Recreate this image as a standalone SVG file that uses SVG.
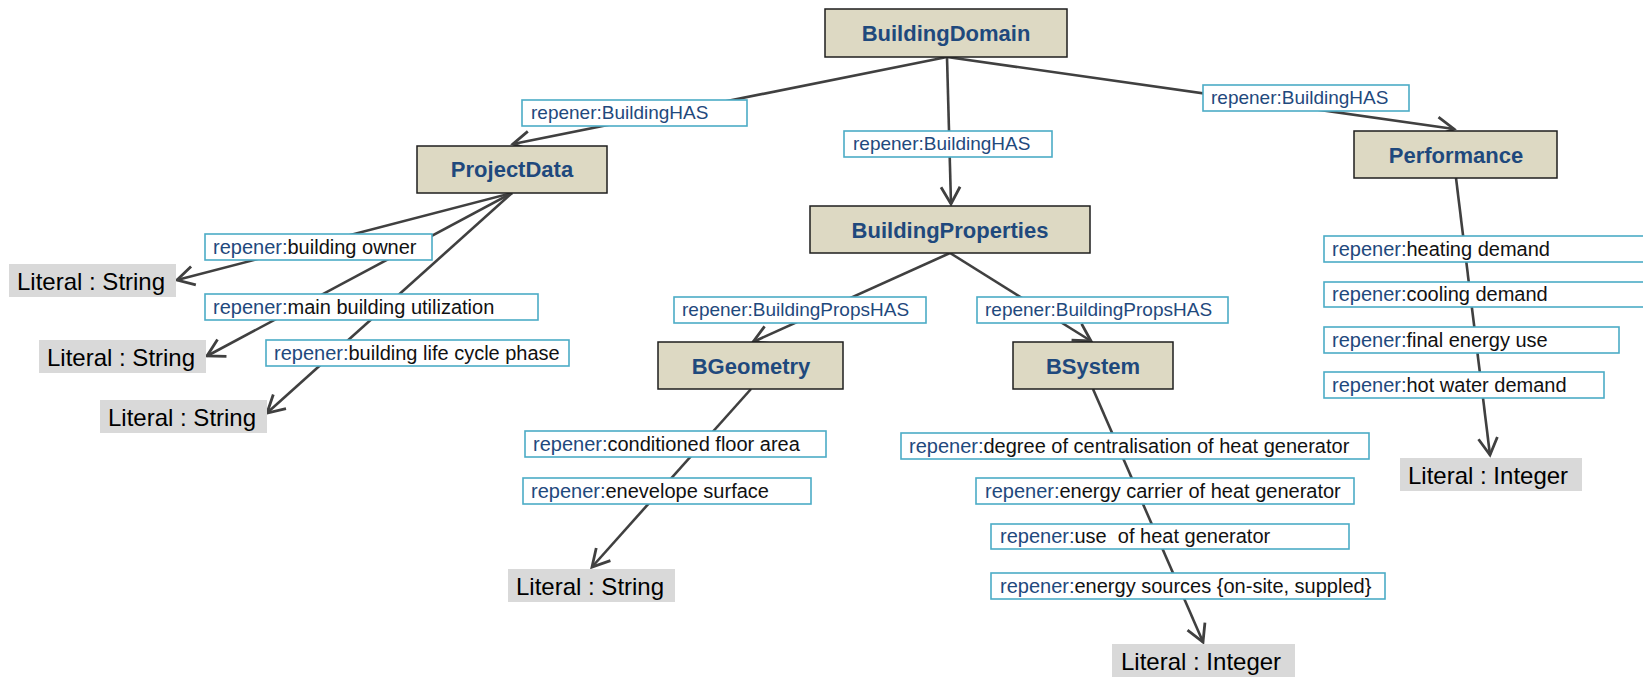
<svg xmlns="http://www.w3.org/2000/svg" width="1643" height="677" viewBox="0 0 1643 677">
  <style>
    .node rect { fill: #ddd9c3; stroke: #1e1e1e; stroke-width: 1.5; }
    .node text { font-family: "Liberation Sans", Arial, sans-serif; font-weight: bold; font-size: 22px; fill: #1f497d; text-anchor: middle; }
    .lit rect { fill: #d9d9d9; }
    .lit text { font-family: "Liberation Sans", Arial, sans-serif; font-size: 24px; fill: #000; }
    .lbl rect { fill: #fff; stroke: #4bacc6; stroke-width: 1.6; }
    .lbl text { font-family: "Liberation Sans", Arial, sans-serif; font-size: 20px; fill: #111; }
    .lbl text.has { font-size: 19px; fill: #1f497d; }
    .ns { fill: #1f497d; }
    .edges path { fill: none; stroke: #404040; stroke-width: 2.6; marker-end: url(#open); }
  </style>
  <defs>
    <marker id="open" markerUnits="userSpaceOnUse" viewBox="-22 -12 26 24" refX="0" refY="0" markerWidth="26" markerHeight="24" orient="auto" overflow="visible">
      <path d="M-17,-9.5 L0,0 L-17,9.5" fill="none" stroke="#404040" stroke-width="2.8" stroke-linejoin="miter"/>
    </marker>
  </defs>
  <rect width="1643" height="677" fill="#fff"/>

  <!-- connectors -->
  <g id="connectors" class="edges">
    <path d="M947,57 L513,144"/>
    <path d="M947,57 L951,204"/>
    <path d="M947,57 L1454,129"/>
    <path d="M512,193 L177,280"/>
    <path d="M512,193 L207,356"/>
    <path d="M512,193 L267,413"/>
    <path d="M950,253 L753,342"/>
    <path d="M950,253 L1091,341"/>
    <path d="M751,389 L592,567"/>
    <path d="M1093,389 L1203,642"/>
    <path d="M1456,178 L1490,455"/>
  </g>

  <!-- edge labels -->
  <g id="edge-labels">
    <g id="lbl-has-projectdata" class="lbl"><rect x="522" y="100" width="225" height="26"/><text class="has" x="531" y="119">repener:BuildingHAS</text></g>
    <g id="lbl-has-properties" class="lbl"><rect x="844" y="131" width="208" height="26"/><text class="has" x="853" y="150">repener:BuildingHAS</text></g>
    <g id="lbl-has-performance" class="lbl"><rect x="1203" y="85" width="206" height="26"/><text class="has" x="1211" y="104">repener:BuildingHAS</text></g>
    <g id="lbl-props-geometry" class="lbl"><rect x="674" y="297" width="252" height="26"/><text class="has" x="682" y="316">repener:BuildingPropsHAS</text></g>
    <g id="lbl-props-system" class="lbl"><rect x="977" y="297" width="251" height="26"/><text class="has" x="985" y="316">repener:BuildingPropsHAS</text></g>

    <g id="lbl-owner" class="lbl"><rect x="205" y="234" width="227" height="26"/><text x="213" y="254"><tspan class="ns">repener:</tspan>building owner</text></g>
    <g id="lbl-utilization" class="lbl"><rect x="205" y="294" width="333" height="26"/><text x="213" y="314"><tspan class="ns">repener:</tspan>main building utilization</text></g>
    <g id="lbl-lifecycle" class="lbl"><rect x="266" y="340" width="303" height="26"/><text x="274" y="360"><tspan class="ns">repener:</tspan>building life cycle phase</text></g>

    <g id="lbl-floor" class="lbl"><rect x="525" y="431" width="301" height="26"/><text x="533" y="451"><tspan class="ns">repener:</tspan>conditioned floor area</text></g>
    <g id="lbl-envelope" class="lbl"><rect x="523" y="478" width="288" height="26"/><text x="531" y="498"><tspan class="ns">repener:</tspan>enevelope surface</text></g>

    <g id="lbl-centralisation" class="lbl"><rect x="901" y="433" width="468" height="26"/><text x="909" y="453"><tspan class="ns">repener:</tspan>degree of centralisation of heat generator</text></g>
    <g id="lbl-carrier" class="lbl"><rect x="976" y="478" width="378" height="26"/><text x="985" y="498"><tspan class="ns">repener:</tspan>energy carrier of heat generator</text></g>
    <g id="lbl-use" class="lbl"><rect x="991" y="524" width="358" height="25"/><text x="1000" y="543" xml:space="preserve"><tspan class="ns">repener:</tspan>use  of heat generator</text></g>
    <g id="lbl-sources" class="lbl"><rect x="991" y="573" width="394" height="26"/><text x="1000" y="593"><tspan class="ns">repener:</tspan>energy sources {on-site, suppled}</text></g>

    <g id="lbl-heating" class="lbl"><rect x="1324" y="236" width="330" height="26"/><text x="1332" y="256"><tspan class="ns">repener:</tspan>heating demand</text></g>
    <g id="lbl-cooling" class="lbl"><rect x="1324" y="282" width="330" height="25"/><text x="1332" y="301"><tspan class="ns">repener:</tspan>cooling demand</text></g>
    <g id="lbl-final" class="lbl"><rect x="1324" y="327" width="295" height="26"/><text x="1332" y="347"><tspan class="ns">repener:</tspan>final energy use</text></g>
    <g id="lbl-hotwater" class="lbl"><rect x="1324" y="372" width="280" height="26"/><text x="1332" y="392"><tspan class="ns">repener:</tspan>hot water demand</text></g>
  </g>

  <!-- class nodes -->
  <g id="BuildingDomain" class="node"><rect x="825" y="9" width="242" height="48"/><text x="946" y="41">BuildingDomain</text></g>
  <g id="ProjectData" class="node"><rect x="417" y="146" width="190" height="47"/><text x="512" y="177">ProjectData</text></g>
  <g id="Performance" class="node"><rect x="1354" y="131" width="203" height="47"/><text x="1456" y="163">Performance</text></g>
  <g id="BuildingProperties" class="node"><rect x="810" y="206" width="280" height="47"/><text x="950" y="238">BuildingProperties</text></g>
  <g id="BGeometry" class="node"><rect x="658" y="342" width="185" height="47"/><text x="751" y="374">BGeometry</text></g>
  <g id="BSystem" class="node"><rect x="1013" y="342" width="160" height="47"/><text x="1093" y="374">BSystem</text></g>

  <!-- literal targets -->
  <g id="lit-owner" class="lit"><rect x="9" y="264" width="167" height="33"/><text x="17" y="290">Literal : String</text></g>
  <g id="lit-utilization" class="lit"><rect x="39" y="340" width="167" height="33"/><text x="47" y="366">Literal : String</text></g>
  <g id="lit-lifecycle" class="lit"><rect x="100" y="400" width="167" height="33"/><text x="108" y="426">Literal : String</text></g>
  <g id="lit-geometry" class="lit"><rect x="508" y="569" width="167" height="33"/><text x="516" y="595">Literal : String</text></g>
  <g id="lit-system" class="lit"><rect x="1112" y="644" width="183" height="33"/><text x="1121" y="670">Literal : Integer</text></g>
  <g id="lit-performance" class="lit"><rect x="1400" y="458" width="182" height="33"/><text x="1408" y="484">Literal : Integer</text></g>
</svg>
